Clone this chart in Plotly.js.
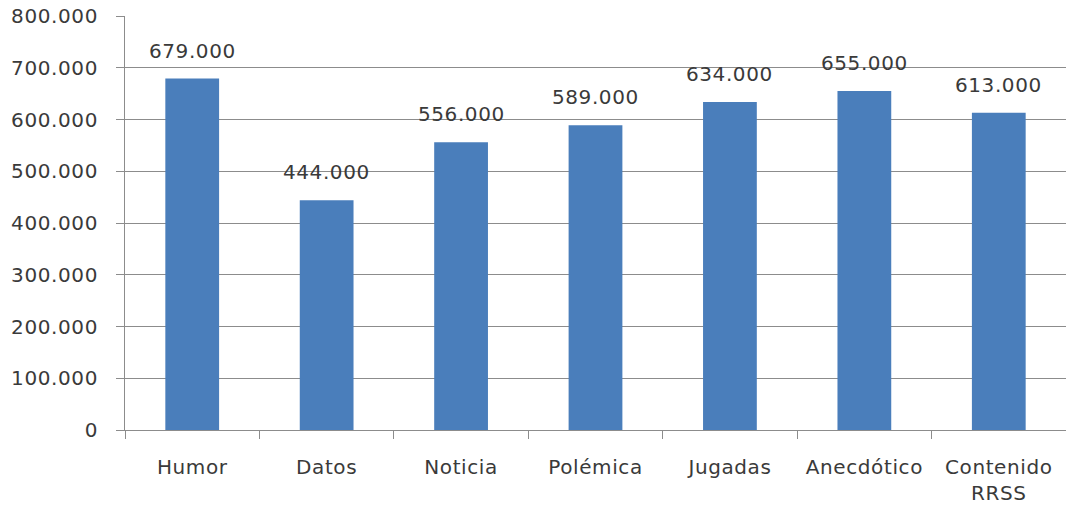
<!DOCTYPE html>
<html>
<head>
<meta charset="utf-8">
<script src="https://cdn.plot.ly/plotly-3.0.1.min.js"></script>
<style>
html,body{margin:0;padding:0;background:#fff;}
#chart{width:1066px;height:508px;}
#chart text{letter-spacing:0.6px;}
</style>
</head>
<body>
<div id="chart"></div>
<script>
const categories = ["Humor", "Datos", "Noticia", "Polémica", "Jugadas", "Anecdótico", "Contenido<br>RRSS"];
const values = [679000, 444000, 556000, 589000, 634000, 655000, 613000];
const yTicks = [0, 100000, 200000, 300000, 400000, 500000, 600000, 700000, 800000];

const fontFam = "DejaVu Sans, Verdana, sans-serif";
const textColor = "#3a3a3a";
const gridColor = "#8c8c8c";

const fmt = v => v.toLocaleString('de-DE');

const trace = {
  type: 'bar',
  x: categories,
  y: values,
  width: 0.4,
  marker: {color: '#4a7ebb', line: {width: 0}},
  hoverinfo: 'none'
};

const annotations = categories.map((c, i) => ({
  x: c, y: values[i], xref: 'x', yref: 'y',
  text: fmt(values[i]), showarrow: false,
  yanchor: 'bottom', yshift: 14,
  font: {family: fontFam, size: 20, color: textColor}
}));

const layout = {
  width: 1066, height: 508,
  margin: {l: 125, r: 0, t: 16, b: 78},
  paper_bgcolor: '#fff', plot_bgcolor: '#fff',
  separators: ',.',
  showlegend: false,
  font: {family: fontFam, size: 20, color: textColor},
  xaxis: {
    type: 'category',
    range: [-0.5, 6.5],
    showline: true, linecolor: gridColor, linewidth: 1,
    ticks: 'outside', tickson: 'boundaries', ticklen: 8, tickcolor: gridColor,
    ticklabelstandoff: 19,
    showgrid: false, zeroline: false,
    tickfont: {family: fontFam, size: 20, color: textColor}
  },
  yaxis: {
    range: [0, 800000],
    tickvals: yTicks,
    ticktext: yTicks.map(fmt),
    showline: true, linecolor: gridColor, linewidth: 1,
    ticks: 'outside', ticklen: 8, tickcolor: gridColor,
    ticklabelstandoff: 14,
    showgrid: true, gridcolor: gridColor, gridwidth: 1,
    zeroline: false,
    tickfont: {family: fontFam, size: 20, color: textColor}
  },
  annotations: annotations
};

Plotly.newPlot('chart', [trace], layout, {staticPlot: true, displayModeBar: false});
</script>
</body>
</html>
